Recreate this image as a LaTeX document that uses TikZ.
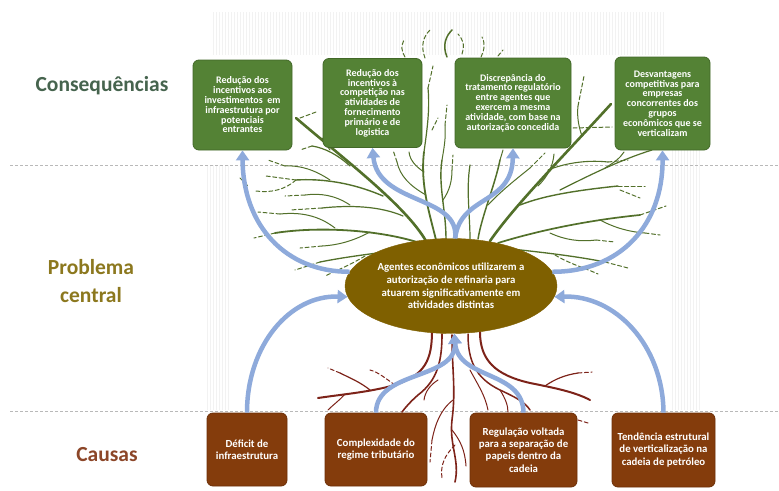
\documentclass[tikz,border=0pt]{standalone}
\usepackage{fontspec}
\setmainfont{Carlito}
\usetikzlibrary{arrows.meta,shapes.geometric}
\definecolor{cgreen}{RGB}{84,130,53}
\definecolor{cgreenD}{RGB}{66,104,40}
\definecolor{cbrown}{RGB}{132,60,12}
\definecolor{cbrownD}{RGB}{110,48,8}
\definecolor{cgold}{RGB}{127,96,0}
\definecolor{cblue}{RGB}{142,170,219}
\definecolor{ctree}{RGB}{82,112,42}
\definecolor{croot}{RGB}{125,35,25}
\definecolor{lblG}{RGB}{70,100,78}
\definecolor{lblP}{RGB}{140,120,30}
\definecolor{lblC}{RGB}{140,70,40}
\tikzset{
  conbox/.style={draw=cgreenD, line width=0.8pt, fill=cgreen, rounded corners=6pt,
    text=white, align=center, inner sep=0pt, font=\bfseries\fontsize{10}{9.8}\selectfont},
  causebox/.style={draw=cbrownD, line width=0.8pt, fill=cbrown, rounded corners=6pt,
    text=white, align=center, inner sep=0pt, font=\bfseries\fontsize{10.8}{12.2}\selectfont},
  probell/.style={ellipse, fill=cgold, draw=cgold, text=white, align=center, inner sep=0pt,
    font=\bfseries\fontsize{10.8}{12.7}\selectfont},
  lbl/.style={align=center, font=\bfseries\fontsize{21.5}{28}\selectfont},
  ar/.style={draw=cblue, line width=4.5pt, -{Triangle[width=13pt,length=10pt]}},
  gbr/.style={draw=ctree, line cap=round, line width=#1},
  gtip/.style={draw=ctree, line cap=round, line width=1pt, dash pattern=on 4pt off 2.5pt},
  rbr/.style={draw=croot, line cap=round, line width=#1},
  rtip/.style={draw=croot, line cap=round, line width=1pt, dash pattern=on 4pt off 2.5pt},
  sep/.style={draw=gray!55, line width=0.6pt, dash pattern=on 3pt off 2pt},
  stripe/.style={draw=gray!10, line width=0.7pt}
}
\begin{document}
\begin{tikzpicture}[x=1pt,y=-1pt]
\useasboundingbox (0,0) rectangle (779,490);
\fill[white] (0,0) rectangle (779,490);
% faint background texture
\foreach \x in {213,216,...,665} \draw[stripe] (\x,12) -- (\x,55);
\foreach \x in {207,210,...,228} \draw[stripe] (\x,165) -- (\x,410);
\foreach \x in {672,675,...,700} \draw[stripe] (\x,150) -- (\x,410);
% separators
\draw[sep] (10,165) -- (779,165);
\draw[sep] (10,411) -- (779,411);
% labels
\node[lbl, text=lblG] (lcons) at (102,86) {Consequências};
\node[lbl, text=lblP] (lprob) at (91,281) {Problema\\central};
\node[lbl, text=lblC] (lcaus) at (107,455) {Causas};
% ---- green tree: left ----
\draw[gbr=2.6pt] (426,241) .. controls (405,205) and (345,160) .. (296,118);
\draw[gbr=1.4pt] (383,196) .. controls (360,186) and (330,178) .. (296,180);
\draw[gtip] (296,180) -- (266,176);
\draw[gbr=1pt] (330,180) .. controls (315,170) and (300,165) .. (285,166);
\draw[gtip] (285,166) -- (268,160);
\draw[gbr=1.2pt] (350,166) .. controls (338,155) and (325,148) .. (312,146);
\draw[gtip] (312,146) -- (300,150);
\draw[gtip] (330,150) -- (322,138);
\draw[gbr=1.2pt] (403,216) .. controls (380,206) and (350,205) .. (322,208);
\draw[gtip] (322,208) -- (290,210);
\draw[gbr=1pt] (350,205) .. controls (335,195) and (320,193) .. (305,195);
\draw[gtip] (305,195) -- (285,196);
\draw[gbr=1.8pt] (420,243) .. controls (380,230) and (320,226) .. (275,233);
\draw[gtip] (275,233) -- (254,238);
\draw[gbr=1pt] (335,228) .. controls (318,215) and (300,212) .. (280,214);
\draw[gtip] (280,214) -- (258,212);
\draw[gbr=1pt] (370,232) .. controls (355,240) and (340,245) .. (322,246);
\draw[gtip] (322,246) -- (300,248);
\draw[gbr=1.3pt] (418,247) .. controls (390,252) and (355,255) .. (320,262);
\draw[gtip] (320,262) -- (295,270);
\draw[gtip] (365,256) .. controls (350,265) and (338,270) .. (325,276);
\draw[gtip] (296,180) .. controls (285,190) and (270,193) .. (256,191);
\draw[gtip] (240,178) -- (248,186);
\draw[gtip] (300,118) -- (316,112);
% center-left
\draw[gbr=1.8pt] (436,240) .. controls (430,215) and (420,185) .. (424,152);
\draw[gbr=1.2pt] (424,152) .. controls (427,130) and (430,110) .. (428,88);
\draw[gtip] (428,88) -- (433,66);
\draw[gbr=1pt] (426,195) .. controls (410,186) and (400,176) .. (397,162);
\draw[gtip] (397,162) -- (393,150);
\draw[gbr=1pt] (424,172) .. controls (415,166) and (410,160) .. (409,152);
\draw[gbr=1.4pt] (446,239) .. controls (446,210) and (438,185) .. (442,160);
\draw[gbr=1pt] (442,160) .. controls (444,148) and (446,138) .. (445,125);
\draw[gtip] (445,125) -- (447,105);
\draw[gbr=1pt] (443,200) .. controls (450,190) and (452,180) .. (452,170);
\draw[gtip] (452,170) -- (453,155);
\draw[gtip] (432,130) -- (438,118);
% ---- green tree: right ----
\draw[gbr=2.6pt] (490,241) .. controls (515,205) and (560,160) .. (611,104);
\draw[gbr=1pt] (582,136) .. controls (578,125) and (577,115) .. (578,106);
\draw[gtip] (578,106) -- (584,76);
\draw[gtip] (573,128) -- (612,127);
\draw[gbr=1.4pt] (520,205) .. controls (545,195) and (580,190) .. (618,186);
\draw[gtip] (618,186) -- (645,186);
\draw[gbr=1.2pt] (560,190) .. controls (590,175) and (620,160) .. (652,150);
\draw[gbr=1pt] (605,168) .. controls (615,162) and (620,158) .. (624,152);
\draw[gbr=1.1pt] (548,170) .. controls (568,162) and (590,160) .. (608,162);
\draw[gtip] (608,162) -- (628,160);
\draw[gbr=1.7pt] (498,243) .. controls (540,230) and (590,220) .. (640,215);
\draw[gtip] (640,215) -- (666,206);
\draw[gbr=1pt] (600,220) .. controls (615,228) and (630,232) .. (645,233);
\draw[gtip] (645,233) -- (660,235);
\draw[gbr=1.3pt] (502,248) .. controls (540,252) and (575,256) .. (605,262);
\draw[gtip] (605,262) -- (628,268);
\draw[gtip] (555,255) .. controls (570,264) and (585,268) .. (598,274);
\draw[gbr=1pt] (550,233) .. controls (565,240) and (580,242) .. (596,240);
\draw[gtip] (596,240) -- (615,242);
\draw[gtip] (620,190) -- (640,198);
% center-right
\draw[gbr=1.5pt] (478,239) .. controls (482,215) and (495,185) .. (500,160);
\draw[gbr=1pt] (500,160) -- (503,150);
\draw[gbr=1.2pt] (470,239) .. controls (470,215) and (466,190) .. (470,165);
\draw[gbr=1pt] (488,205) .. controls (500,192) and (515,180) .. (530,168);
\draw[gtip] (530,168) -- (545,153);
\draw[gbr=1pt] (538,186) .. controls (548,176) and (553,166) .. (554,154);
% twigs above boxes
\draw[gbr=1.5pt] (447,57) .. controls (442,45) and (446,36) .. (452,30);
\draw[gtip] (425,58) .. controls (420,45) and (424,36) .. (430,30);
\draw[gtip] (405,57) .. controls (401,50) and (401,46) .. (404,40);
\draw[gtip] (462,54) .. controls (465,44) and (463,40) .. (458,34);
\draw[gtip] (481,57) .. controls (485,48) and (485,43) .. (482,37);
\draw[gtip] (498,56) -- (503,50);
% ---- roots ----
\draw[rbr=2pt] (432,331) .. controls (432,360) and (425,375) .. (395,385) .. controls (370,392) and (345,394) .. (318,398);
\draw[rbr=1.2pt] (370,390) .. controls (360,382) and (350,378) .. (340,373);
\draw[rtip] (340,373) -- (328,368);
\draw[rbr=1pt] (345,394) .. controls (340,400) and (334,404) .. (328,410);
\draw[rbr=1.6pt] (442,334) .. controls (442,360) and (438,380) .. (418,395) .. controls (410,402) and (405,408) .. (402,412);
\draw[rbr=1.6pt] (452,335) .. controls (452,370) and (456,390) .. (452,420) .. controls (449,445) and (460,460) .. (455,482);
\draw[rbr=1pt] (453,400) .. controls (440,410) and (435,425) .. (432,440);
\draw[rtip] (432,440) -- (430,462);
\draw[rbr=1pt] (452,430) .. controls (460,440) and (465,450) .. (466,466);
\draw[rtip] (455,445) .. controls (445,455) and (440,465) .. (442,478);
\draw[rbr=1.5pt] (468,334) .. controls (468,360) and (475,378) .. (500,390) .. controls (515,397) and (525,402) .. (530,410);
\draw[rbr=2pt] (480,332) .. controls (480,360) and (495,375) .. (530,383) .. controls (555,388) and (575,392) .. (590,400);
\draw[rbr=1.2pt] (545,386) .. controls (555,379) and (565,375) .. (578,373);
\draw[rtip] (578,373) -- (592,372);
\draw[rbr=1pt] (500,390) .. controls (505,398) and (508,405) .. (508,412);
\draw[rtip] (395,385) .. controls (385,378) and (378,372) .. (370,370);
\draw[rbr=1pt] (438,380) .. controls (430,385) and (425,392) .. (424,400);
\draw[rbr=1pt] (470,370) .. controls (478,385) and (485,395) .. (488,410);
\draw[rtip] (578,420) -- (588,423);
% ---- nodes ----
\node[conbox, minimum width=99pt, minimum height=90pt] (c1) at (242.5,105) {Redução dos\\incentivos aos\\investimentos \ em\\infraestrutura por\\potenciais\\entrantes};
\node[conbox, minimum width=99pt, minimum height=89pt] (c2) at (372.5,103) {Redução dos\\incentivos à\\competição nas\\atividades de\\fornecimento\\primário e de\\logistica};
\node[conbox, minimum width=116pt, minimum height=90pt] (c3) at (513,103) {Discrepância do\\tratamento regulatório\\entre agentes que\\exercem a mesma\\atividade, com base na\\autorização concedida};
\node[conbox, minimum width=95pt, minimum height=93pt] (c4) at (662.5,103.5) {Desvantagens\\competitivas para\\empresas\\concorrentes dos\\grupos\\econômicos que se\\verticalizam};
\node[probell, minimum width=212pt, minimum height=95pt] (prob) at (451,286) {Agentes econômicos utilizarem a\\autorização de refinaria para\\atuarem significativamente em\\atividades distintas};
\node[causebox, minimum width=80pt, minimum height=73pt] (b1) at (247,449.5) {Déficit de\\infraestrutura};
\node[causebox, minimum width=102pt, minimum height=73pt] (b2) at (376,449.5) {Complexidade do\\regime tributário};
\node[causebox, minimum width=107pt, minimum height=74pt] (b3) at (523.5,450) {Regulação voltada\\para a separação de\\papeis dentro da\\cadeia};
\node[causebox, minimum width=103pt, minimum height=74pt] (b4) at (663.5,450) {Tendência estrutural\\de verticalização na\\cadeia de petróleo};
% ---- arrows ----
\draw[ar] (prob.172) .. controls (285,272) and (243,225) .. (c1.south);
\draw[ar] (b1.north) .. controls (247,345) and (290,295) .. (prob.186);
\draw[ar] (prob.8) .. controls (620,272) and (663,225) .. (c4.south);
\draw[ar] (b4.north) .. controls (663,345) and (615,295) .. (prob.354);
\draw[ar] (prob.85) .. controls (460,195) and (378,205) .. (c2.south);
\draw[ar] (prob.85) .. controls (460,195) and (512,205) .. (c3.south);
\draw[ar] (b2.north) .. controls (376,370) and (457,380) .. (prob.274);
\draw[ar] (b3.north) .. controls (523,370) and (458,380) .. (prob.274);
\end{tikzpicture}
\end{document}
